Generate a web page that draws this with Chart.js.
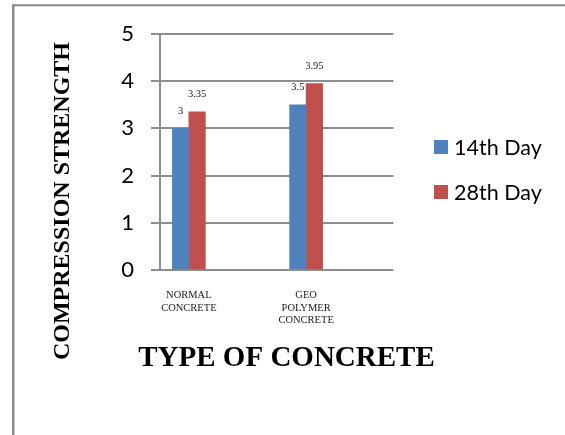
<!DOCTYPE html>
<html>
<head>
<meta charset="utf-8">
<script src="https://cdn.jsdelivr.net/npm/chart.js@4/dist/chart.umd.min.js"></script>
<style>
  html, body { margin: 0; padding: 0; background: #ffffff; }
  canvas { display: block; }
</style>
</head>
<body>
<canvas id="chart" width="565" height="435"></canvas>
<script>
// Categories (multi-line tick labels) and the two curing ages
const categories = [['NORMAL', 'CONCRETE'], ['GEO', 'POLYMER', 'CONCRETE']];
const seriesNames = ['14th Day', '28th Day'];
const day14 = [3, 3.5];
const day28 = [3.35, 3.95];
const yTickValues = [0, 1, 2, 3, 4, 5];
const yTitle = 'COMPRESSION STRENGTH';
const xTitle = 'TYPE OF CONCRETE';

const seriesColors = ['#4F81BD', '#C0504D'];
const gridGray = '#8e8e8e';
const serif = '"Liberation Serif", "Times New Roman", serif';
const sans = 'Lato, "Open Sans", sans-serif';

const toPoints = vals => vals.map((v, i) => ({ x: i + 1, y: v }));

// White page with the grey frame at the top-left
const framePlugin = {
  id: 'frame',
  beforeDraw(chart) {
    const ctx = chart.ctx;
    ctx.save();
    ctx.fillStyle = '#ffffff';
    ctx.fillRect(0, 0, chart.width, chart.height);
    ctx.fillStyle = '#8c8c8c';
    ctx.fillRect(12, 4.3, 2.5, chart.height - 4);
    ctx.fillRect(12, 4.3, chart.width - 12, 2);
    ctx.restore();
  }
};

// Value printed above each bar
const valueLabels = {
  id: 'valueLabels',
  afterDatasetsDraw(chart) {
    const ctx = chart.ctx;
    ctx.save();
    ctx.font = '10.5px ' + serif;
    ctx.fillStyle = '#1a1a1a';
    ctx.textAlign = 'center';
    ctx.textBaseline = 'middle';
    chart.data.datasets.forEach((ds, di) => {
      const meta = chart.getDatasetMeta(di);
      meta.data.forEach((bar, i) => {
        ctx.fillText(String(ds.data[i].y), bar.x, bar.y - 17.5);
      });
    });
    ctx.restore();
  }
};

// Axis titles and the legend on the right
const decorations = {
  id: 'decorations',
  afterDraw(chart) {
    const ctx = chart.ctx;
    ctx.save();
    ctx.fillStyle = '#000000';

    // vertical axis title
    ctx.font = 'bold 24px ' + serif;
    ctx.textAlign = 'center';
    ctx.textBaseline = 'alphabetic';
    ctx.translate(68.5, 201);
    ctx.rotate(-Math.PI / 2);
    ctx.fillText(yTitle, 0, 0);
    ctx.setTransform(1, 0, 0, 1, 0, 0);

    // horizontal axis title
    ctx.font = 'bold 29px ' + serif;
    ctx.fillText(xTitle, 286.5, 366);

    // legend
    ctx.font = '21.5px ' + sans;
    ctx.textAlign = 'left';
    chart.data.datasets.forEach((ds, i) => {
      const cy = 147 + i * 45;
      ctx.fillStyle = ds.backgroundColor;
      ctx.fillRect(434, cy - 7, 14, 14);
      ctx.fillStyle = '#000000';
      ctx.fillText(ds.label, 454, cy + 7.5);
    });
    ctx.restore();
  }
};

new Chart(document.getElementById('chart'), {
  type: 'bar',
  data: {
    datasets: [
      { label: seriesNames[0], data: toPoints(day14), backgroundColor: seriesColors[0] },
      { label: seriesNames[1], data: toPoints(day28), backgroundColor: seriesColors[1] }
    ]
  },
  options: {
    responsive: false,
    animation: false,
    devicePixelRatio: 1,
    layout: { padding: { left: 0, top: 34, right: 171.5, bottom: 85 } },
    plugins: {
      legend: { display: false },
      tooltip: { enabled: false }
    },
    datasets: { bar: { barThickness: 16.5, borderWidth: 0 } },
    scales: {
      x: {
        type: 'linear',
        min: 0.754,
        max: 2.745,
        offset: false,
        afterBuildTicks: s => { s.ticks = categories.map((_, i) => ({ value: i + 1 })); },
        afterFit: s => { s.height = 80; },
        grid: { display: false, drawTicks: false },
        border: { display: false },
        ticks: {
          autoSkip: false,
          maxRotation: 0,
          padding: 19,
          color: '#1a1a1a',
          font: { family: serif, size: 10.5, lineHeight: 1.2 },
          callback: v => categories[Math.round(v) - 1]
        }
      },
      y: {
        min: 0,
        max: 5,
        afterBuildTicks: s => { s.ticks = yTickValues.map(v => ({ value: v })); },
        afterFit: s => { s.width = 160; },
        grid: { color: gridGray, lineWidth: 2, tickLength: 9, drawTicks: true },
        border: { color: gridGray, width: 2 },
        ticks: {
          padding: 17,
          color: '#000000',
          font: { family: sans, size: 22 }
        }
      }
    }
  },
  plugins: [framePlugin, valueLabels, decorations]
});
</script>
</body>
</html>
